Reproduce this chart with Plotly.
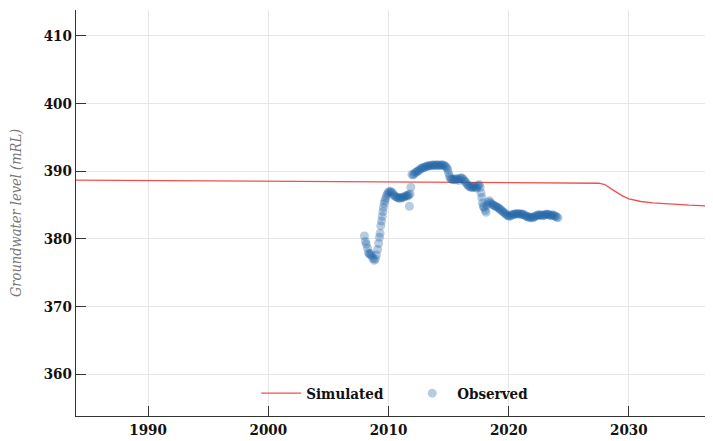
import plotly.graph_objects as go

# Simulated groundwater level (decimal year, mRL)
sim_year = [1984.0, 1990.0, 2000.0, 2010.0, 2020.0, 2027.5, 2028.0, 2028.5, 2029.0,
            2029.5, 2030.0, 2030.5, 2031.0, 2032.0, 2033.0, 2034.0, 2035.0, 2036.0, 2037.0]
sim_level = [388.65, 388.6, 388.55, 388.45, 388.3, 388.2, 388.0, 387.4, 386.8,
             386.3, 385.9, 385.65, 385.5, 385.3, 385.15, 385.05, 384.95, 384.88, 384.8]

# Observed groundwater level (decimal year, mRL)
obs_year = [2008.0, 2008.08, 2008.15, 2008.25, 2008.33, 2008.42, 2008.5, 2008.6, 2008.7, 2008.8,
            2008.9, 2009.0, 2009.1, 2009.18, 2009.25, 2009.3, 2009.36, 2009.42, 2009.48, 2009.53,
            2009.58, 2009.64, 2009.7, 2009.77, 2009.85, 2009.93, 2010.02, 2010.12, 2010.22, 2010.32,
            2010.42, 2010.52, 2010.62, 2010.72, 2010.82, 2010.92, 2011.02, 2011.12, 2011.22, 2011.32,
            2011.42, 2011.52, 2011.6, 2011.68, 2011.74, 2011.8, 2011.86, 2011.95, 2012.05, 2012.15,
            2012.25, 2012.35, 2012.45, 2012.55, 2012.65, 2012.75, 2012.85, 2012.95, 2013.05, 2013.15,
            2013.25, 2013.35, 2013.45, 2013.55, 2013.65, 2013.75, 2013.85, 2013.95, 2014.05, 2014.15,
            2014.25, 2014.35, 2014.45, 2014.55, 2014.65, 2014.75, 2014.85, 2014.93, 2015.0, 2015.08,
            2015.16, 2015.25, 2015.35, 2015.45, 2015.55, 2015.65, 2015.75, 2015.85, 2015.95, 2016.05,
            2016.15, 2016.25, 2016.35, 2016.45, 2016.55, 2016.65, 2016.75, 2016.85, 2016.95, 2017.05,
            2017.15, 2017.25, 2017.35, 2017.45, 2017.55, 2017.62, 2017.7, 2017.76, 2017.82, 2017.88,
            2017.95, 2018.05, 2018.12, 2018.2, 2018.3, 2018.4, 2018.5, 2018.6, 2018.7, 2018.8,
            2018.9, 2019.0, 2019.1, 2019.2, 2019.3, 2019.4, 2019.5, 2019.6, 2019.7, 2019.8,
            2019.9, 2020.0, 2020.1, 2020.2, 2020.3, 2020.4, 2020.5, 2020.6, 2020.7, 2020.8,
            2020.9, 2021.0, 2021.1, 2021.2, 2021.3, 2021.4, 2021.5, 2021.6, 2021.7, 2021.8,
            2021.9, 2022.0, 2022.1, 2022.2, 2022.3, 2022.4, 2022.5, 2022.6, 2022.7, 2022.8,
            2022.9, 2023.0, 2023.1, 2023.2, 2023.3, 2023.4, 2023.5, 2023.6, 2023.7, 2023.8,
            2023.9, 2024.0, 2024.1]
obs_level = [380.4, 379.6, 379.2, 378.6, 377.9, 377.7, 377.8, 377.5, 377.1, 376.8,
             377.0, 377.6, 378.4, 379.3, 380.2, 380.8, 381.9, 382.6, 383.3, 384.0,
             384.6, 385.2, 385.6, 386.0, 386.4, 386.7, 386.9, 387.0, 386.9, 386.8,
             386.5, 386.3, 386.2, 386.1, 386.0, 386.0, 386.0, 386.1, 386.1, 386.2,
             386.3, 386.4, 386.3, 386.5, 384.8, 386.6, 387.6, 389.5, 389.4, 389.6,
             389.8, 389.9, 390.0, 390.1, 390.3, 390.4, 390.5, 390.5, 390.6, 390.7,
             390.7, 390.8, 390.8, 390.8, 390.9, 390.9, 390.8, 390.9, 390.9, 390.9,
             390.8, 390.9, 390.9, 390.9, 390.8, 390.7, 390.5, 390.2, 389.7, 389.2,
             388.9, 388.8, 388.7, 388.8, 388.7, 388.9, 388.8, 388.6, 388.9, 389.0,
             388.9, 388.7, 388.5, 388.3, 388.0, 387.8, 387.7, 387.6, 387.6, 387.6,
             387.7, 387.6, 387.5, 387.8, 388.0, 387.6, 386.8, 386.1, 385.3, 384.8,
             384.6, 384.2, 383.9, 385.0, 385.4, 385.6, 385.3, 385.1, 385.0, 384.9,
             384.8, 384.7, 384.6, 384.5, 384.3, 384.2, 384.0, 383.9, 383.7, 383.6,
             383.4, 383.4, 383.3, 383.5, 383.5, 383.6, 383.6, 383.7, 383.7, 383.7,
             383.6, 383.7, 383.6, 383.6, 383.5, 383.4, 383.3, 383.2, 383.2, 383.1,
             383.2, 383.1, 383.2, 383.3, 383.4, 383.5, 383.5, 383.5, 383.5, 383.4,
             383.5, 383.5, 383.6, 383.6, 383.6, 383.5, 383.4, 383.5, 383.5, 383.4,
             383.3, 383.2, 383.1]

x_ticks = [1990, 2000, 2010, 2020, 2030]
y_ticks = [360, 370, 380, 390, 400, 410]

FONT = "DejaVu Serif Condensed"

fig = go.Figure()
fig.add_trace(go.Scatter(
    x=sim_year, y=sim_level, mode="lines", name="Simulated",
    line=dict(color="rgba(240,60,60,0.9)", width=1.3),
))
fig.add_trace(go.Scatter(
    x=obs_year, y=obs_level, mode="markers", name="Observed",
    marker=dict(color="rgb(30,100,168)", size=9, opacity=0.33, line=dict(width=0)),
))

axis_common = dict(
    showgrid=True, gridcolor="#e6e6e6", gridwidth=1,
    showline=True, linecolor="#333333", linewidth=1.3,
    ticks="inside", ticklen=10, tickcolor="#333333", tickwidth=1.3,
    zeroline=False,
    tickfont=dict(family=FONT, size=15, color="#111111", weight="bold"),
)

fig.update_layout(
    width=705, height=433,
    margin=dict(l=68, r=0, t=2, b=25),
    paper_bgcolor="white", plot_bgcolor="white",
    showlegend=True,
    legend=dict(
        orientation="h", x=0.52, xanchor="center", y=0.015, yanchor="bottom",
        bgcolor="rgba(0,0,0,0)",
        font=dict(family=FONT, size=15, color="#111111", weight="bold"),
        itemwidth=40, entrywidth=96,
    ),
    xaxis=dict(axis_common, range=[1984.0, 2037.0], tickvals=x_ticks,
               ticktext=[str(v) for v in x_ticks]),
    yaxis=dict(axis_common, range=[353.8, 413.8], tickvals=y_ticks,
               ticktext=[str(v) for v in y_ticks],
               title=dict(text="Groundwater level (mRL)", standoff=18,
                          font=dict(family=FONT, size=14.5, color="#777777",
                                    style="italic"))),
)

fig.write_html("out.html")
